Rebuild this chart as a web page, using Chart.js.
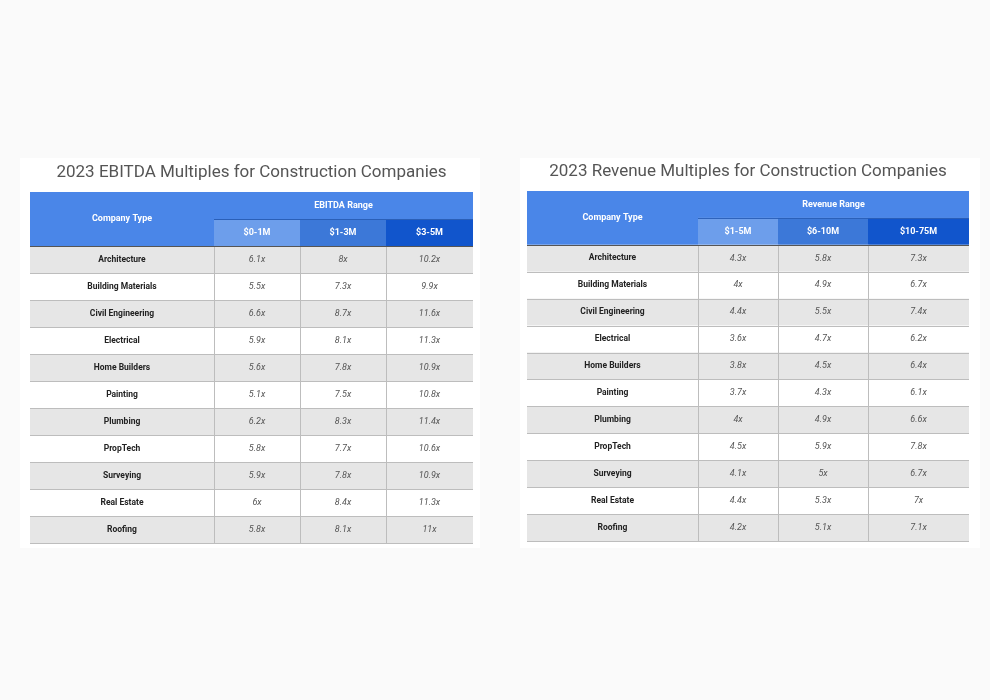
<!DOCTYPE html>
<html>
<head>
<meta charset="utf-8">
<script src="https://cdn.jsdelivr.net/npm/chart.js@4"></script>
<style>
  body { margin: 0; background: #fafafa; width: 990px; height: 700px; position: relative; overflow: hidden; }
  canvas { position: absolute; background: #fff; }
</style>
</head>
<body>
<canvas id="ebitda" width="460" height="390" style="left:20px;top:158px"></canvas>
<canvas id="revenue" width="460" height="390" style="left:520px;top:158px"></canvas>
<script>
const companyTypes = ['Architecture', 'Building Materials', 'Civil Engineering', 'Electrical', 'Home Builders',
  'Painting', 'Plumbing', 'PropTech', 'Surveying', 'Real Estate', 'Roofing'];

const ebitdaRanges = ['$0-1M', '$1-3M', '$3-5M'];
const ebitda0to1 = [6.1, 5.5, 6.6, 5.9, 5.6, 5.1, 6.2, 5.8, 5.9, 6, 5.8];
const ebitda1to3 = [8, 7.3, 8.7, 8.1, 7.8, 7.5, 8.3, 7.7, 7.8, 8.4, 8.1];
const ebitda3to5 = [10.2, 9.9, 11.6, 11.3, 10.9, 10.8, 11.4, 10.6, 10.9, 11.3, 11];

const revenueRanges = ['$1-5M', '$6-10M', '$10-75M'];
const revenue1to5 = [4.3, 4, 4.4, 3.6, 3.8, 3.7, 4, 4.5, 4.1, 4.4, 4.2];
const revenue6to10 = [5.8, 4.9, 5.5, 4.7, 4.5, 4.3, 4.9, 5.9, 5, 5.3, 5.1];
const revenue10to75 = [7.3, 6.7, 7.4, 6.2, 6.4, 6.1, 6.6, 7.8, 6.7, 7, 7.1];

const subColors = ['#6d9eeb', '#3c78d8', '#1155cc'];

// draws the table cells through the chart's x/y scales
const tablePlugin = {
  id: 'table',
  afterDraw(chart, args, o) {
    const { ctx, scales: { x, y } } = chart;
    const e = o.edges;
    const nCols = 4, nRows = companyTypes.length;
    const rect = (c0, c1, r0, r1, fill) => {
      const x0 = x.getPixelForValue(e[c0]), x1 = x.getPixelForValue(e[c1]);
      const y0 = y.getPixelForValue(r0), y1 = y.getPixelForValue(r1);
      ctx.fillStyle = fill;
      ctx.fillRect(x0, y0, x1 - x0, y1 - y0);
      return [(x0 + x1) / 2, (y0 + y1) / 2];
    };
    const text = (s, p, font, color) => {
      ctx.font = font; ctx.fillStyle = color;
      ctx.textAlign = 'center'; ctx.textBaseline = 'middle';
      ctx.fillText(s, p[0], p[1]);
    };
    ctx.save();
    // title
    ctx.font = '17px Roboto'; ctx.fillStyle = '#555'; ctx.textAlign = 'center'; ctx.textBaseline = 'middle';
    ctx.fillText(o.title, (x.left + x.right) / 2, y.getPixelForValue(0) - 19);
    // header
    text('Company Type', rect(0, 1, 0, 2, '#4a86e8'), 'bold 9px Roboto', '#fff');
    text(o.rangeLabel, rect(1, 4, 0, 1, '#4a86e8'), 'bold 9px Roboto', '#fff');
    o.ranges.forEach((r, i) => text(r, rect(i + 1, i + 2, 1, 2, subColors[i]), 'bold 9px Roboto', '#fff'));
    ctx.strokeStyle = '#2a5fb8'; ctx.lineWidth = 1;
    ctx.beginPath();
    ctx.moveTo(x.getPixelForValue(e[1]), y.getPixelForValue(1) + 0.5);
    ctx.lineTo(x.getPixelForValue(e[4]), y.getPixelForValue(1) + 0.5);
    ctx.stroke();
    // body
    companyTypes.forEach((name, r) => {
      const bg = r % 2 === 0 ? '#e6e6e6' : '#fff';
      text(name, rect(0, 1, r + 2, r + 3, bg), 'bold 8.5px Roboto', '#222');
      o.series.forEach((s, c) => text(s[r] + 'x', rect(c + 1, c + 2, r + 2, r + 3, bg), 'italic 9px Roboto', '#555'));
    });
    // grid lines
    ctx.strokeStyle = '#bdbdbd';
    ctx.beginPath();
    for (let r = 3; r <= nRows + 2; r++) {
      const yy = Math.round(y.getPixelForValue(r)) + 0.5;
      ctx.moveTo(x.left, yy); ctx.lineTo(x.right, yy);
    }
    for (let c = 1; c < nCols; c++) {
      const xx = Math.round(x.getPixelForValue(e[c])) + 0.5;
      ctx.moveTo(xx, y.getPixelForValue(2)); ctx.lineTo(xx, y.getPixelForValue(nRows + 2));
    }
    ctx.stroke();
    ctx.strokeStyle = '#555';
    ctx.beginPath();
    const yh = Math.round(y.getPixelForValue(2)) + 0.5;
    ctx.moveTo(x.left, yh); ctx.lineTo(x.right, yh);
    ctx.stroke();
    ctx.restore();
  }
};

function makeTable(id, title, rangeLabel, ranges, series, edges, padding) {
  new Chart(document.getElementById(id), {
    type: 'scatter',
    data: { datasets: [{ data: [] }] },
    options: {
      responsive: false,
      animation: false,
      layout: { padding },
      scales: {
        x: { display: false, min: 0, max: edges[edges.length - 1] },
        y: { display: false, min: 0, max: companyTypes.length + 2, reverse: true }
      },
      plugins: {
        legend: { display: false },
        tooltip: { enabled: false },
        table: { title, rangeLabel, ranges, series, edges }
      }
    },
    plugins: [tablePlugin]
  });
}

makeTable('ebitda', '2023 EBITDA Multiples for Construction Companies', 'EBITDA Range', ebitdaRanges,
  [ebitda0to1, ebitda1to3, ebitda3to5], [0, 184, 270, 356, 443], { left: 10, top: 34, right: 7, bottom: 5 });
makeTable('revenue', '2023 Revenue Multiples for Construction Companies', 'Revenue Range', revenueRanges,
  [revenue1to5, revenue6to10, revenue10to75], [0, 171, 251, 341, 442], { left: 7, top: 33, right: 11, bottom: 7 });
</script>
</body>
</html>
